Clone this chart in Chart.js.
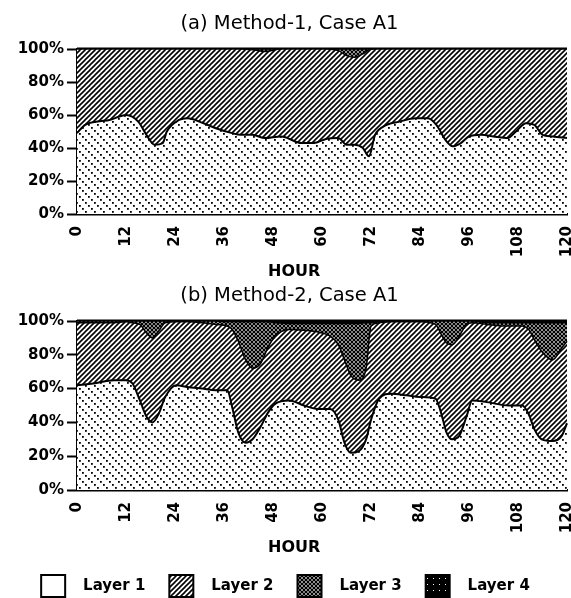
<!DOCTYPE html>
<html>
<head>
<meta charset="utf-8">
<script src="https://cdn.jsdelivr.net/npm/chart.js@4.4.1/dist/chart.umd.min.js"></script>
<style>
  html, body { margin: 0; padding: 0; background: #fff; overflow: hidden; }
  #wrap { position: relative; width: 571px; height: 598px; }
  canvas { position: absolute; left: 0; }
  #ctxA { top: 0; }
  #ctxB { top: 282px; }
</style>
</head>
<body>
<div id="wrap">
  <canvas id="ctxA" width="571" height="282"></canvas>
  <canvas id="ctxB" width="571" height="316"></canvas>
</div>
<script>
// (a) Method-1, Case A1 - share of each layer (%)
const hoursA  = [0, 2, 5, 8, 12, 15, 17, 19, 21, 22, 25, 27, 31, 34, 38, 40, 43, 46, 50, 55, 58, 61, 64, 66, 68, 70, 71.5, 73, 75, 79, 83, 86, 88, 90.5, 92, 94, 96, 99, 102, 105.5, 107.5, 110, 112, 114, 116.5, 120];
const layer1A = [49, 54, 56, 57, 60, 56, 48, 42, 43, 50, 57, 58, 55, 52, 49, 48, 48, 46, 47, 43, 43, 45.5, 46, 42, 42, 40, 35, 48, 53, 56, 58, 58, 54, 44, 41, 43, 47, 48, 47, 46, 50, 55, 54, 48, 47, 46];
const layer2A = [51, 46, 44, 43, 40, 44, 52, 58, 57, 50, 43, 42, 45, 48, 51, 52, 51.5, 52.5, 53, 57, 57, 54.5, 53, 54, 53, 57, 64.5, 52, 47, 44, 42, 42, 46, 56, 59, 57, 53, 52, 53, 54, 50, 45, 46, 52, 53, 54];
const layer3A = [0, 0, 0, 0, 0, 0, 0, 0, 0, 0, 0, 0, 0, 0, 0, 0, 0.5, 1.5, 0, 0, 0, 0, 1, 4, 5, 3, 0.5, 0, 0, 0, 0, 0, 0, 0, 0, 0, 0, 0, 0, 0, 0, 0, 0, 0, 0, 0];
const layer4A = [0, 0, 0, 0, 0, 0, 0, 0, 0, 0, 0, 0, 0, 0, 0, 0, 0, 0, 0, 0, 0, 0, 0, 0, 0, 0, 0, 0, 0, 0, 0, 0, 0, 0, 0, 0, 0, 0, 0, 0, 0, 0, 0, 0, 0, 0];

// (b) Method-2, Case A1
const hoursB  = [0, 4, 9, 12, 13.6, 15.4, 17, 18.5, 20, 21.6, 24.3, 27, 30.6, 34, 36.8, 38, 39.5, 41.3, 43, 45, 46.7, 48.5, 52, 55.6, 59, 62, 64, 65.5, 67, 69, 70.8, 72, 74, 77, 80.7, 84, 87.8, 89, 90.5, 91.9, 93.6, 95.4, 96.8, 100.4, 105.7, 109, 110.6, 112, 113.8, 116.5, 118.7, 120];
const layer1B = [62, 63, 65, 65, 63, 53, 43.5, 40, 45, 55, 62, 61, 60, 59, 59, 49, 34, 28, 30, 37.5, 45.5, 51, 53, 50, 48, 48, 41.5, 28, 22, 23, 30, 41.5, 54, 57, 56, 55, 54, 47, 34, 30, 32, 43.5, 53, 52, 50, 50, 45, 36, 30, 29, 32, 39.5];
const layer2B = [37, 36, 34, 34.5, 36, 45, 49.5, 50, 49, 44, 37.5, 38.5, 39, 39, 38, 46, 54, 49, 42, 37.5, 38.5, 40, 42, 44.5, 45.5, 43, 44.5, 49, 46, 42, 42, 55.5, 45, 42.5, 43.5, 44.5, 44, 46, 53, 56, 59, 54.5, 46, 46, 47, 47, 50, 53, 52, 48, 52, 48.5];
const layer3B = [1, 1, 1, 0.5, 1, 2, 7, 10, 6, 1, 0.5, 0.5, 1, 2, 2.5, 4.5, 11.5, 22.5, 27.5, 24.5, 15.5, 8, 3.5, 4, 5, 7.5, 12.5, 21.5, 30.5, 33.5, 27, 2, 0.5, 0.5, 0.5, 0.5, 2, 7, 13, 14, 9, 2, 1, 1, 2, 2, 4, 10, 17, 22, 15, 11];
const layer4B = [0, 0, 0, 0, 0, 0, 0, 0, 0, 0, 0, 0, 0, 0, 0.5, 0.5, 0.5, 0.5, 0.5, 0.5, 0.5, 1, 1.5, 1.5, 1.5, 1.5, 1.5, 1.5, 1.5, 1.5, 1, 1, 0.5, 0, 0, 0, 0, 0, 0, 0, 0, 0, 0, 1, 1, 1, 1, 1, 1, 1, 1, 1];

const layerNames = ['Layer 1', 'Layer 2', 'Layer 3', 'Layer 4'];
const hourTicks = [0, 12, 24, 36, 48, 60, 72, 84, 96, 108, 120];

const FONT = "'DejaVu Sans', Verdana, sans-serif";
const NBSP = '\u00a0';

function makePattern(size, draw) {
    const c = document.createElement('canvas');
    c.width = size; c.height = size;
    const g = c.getContext('2d');
    g.fillStyle = '#fff';
    g.fillRect(0, 0, size, size);
    draw(g, size);
    return g.createPattern(c, 'repeat');
}

// dotted "\" lines
const dotsPattern = makePattern(9, (g) => {
    g.fillStyle = '#000';
    [[1, 1], [4, 4], [7, 7]].forEach(p => g.fillRect(p[0], p[1], 1.8, 1.8));
});
// "/" hatch
const hatchPattern = makePattern(5, (g, s) => {
    g.strokeStyle = '#000';
    g.lineWidth = 1.6;
    [-s, 0, s].forEach(o => {
        g.beginPath(); g.moveTo(o - 1, s + 1); g.lineTo(o + s + 1, -1); g.stroke();
    });
});
// dense cross hatch
const crossPattern = makePattern(4, (g, s) => {
    g.strokeStyle = '#000';
    g.lineWidth = 1.3;
    [-s, 0, s].forEach(o => {
        g.beginPath(); g.moveTo(o - 1, s + 1); g.lineTo(o + s + 1, -1); g.stroke();
        g.beginPath(); g.moveTo(o - 1, -1); g.lineTo(o + s + 1, s + 1); g.stroke();
    });
});
// nearly solid dark
const darkPattern = makePattern(6, (g) => {
    g.fillStyle = '#000';
    g.fillRect(0, 0, 6, 6);
    g.fillStyle = '#fff';
    g.fillRect(1, 2, 1, 1);
});

const areaFills = [dotsPattern, hatchPattern, crossPattern, darkPattern];
const legendFills = ['#fff', hatchPattern, crossPattern, darkPattern];
const borderWidths = [2, 1.5, 1.5, 3];

// small position tweaks for the title and legend after Chart.js lays out the boxes
const nudgePlugin = {
    id: 'nudge',
    afterLayout(chart, args, opts) {
        if (chart.titleBlock && opts.titleDx) {
            chart.titleBlock.left += opts.titleDx;
            chart.titleBlock.right += opts.titleDx;
        }
        const lg = chart.legend;
        if (lg && chart.options.plugins.legend.display) {
            lg.left += opts.legendDx || 0;
            lg.right += opts.legendDx || 0;
            lg.top += opts.legendDy || 0;
            lg.bottom += opts.legendDy || 0;
        }
    }
};

function toPoints(hours, values) {
    return hours.map((h, i) => ({ x: h, y: values[i] }));
}

function getConfiguration(title, hours, layers, showLegend, titlePad, bottomPad) {
    return {
        type: 'line',
        data: {
            datasets: layers.map((values, i) => ({
                label: layerNames[i],
                data: toPoints(hours, values),
                backgroundColor: areaFills[i],
                borderColor: '#000',
                borderWidth: borderWidths[i],
                pointRadius: 0,
                cubicInterpolationMode: 'monotone',
                fill: i === 0 ? 'origin' : '-1',
                clip: 4
            }))
        },
        plugins: [nudgePlugin],
        options: {
            responsive: false,
            animation: false,
            devicePixelRatio: 1,
            layout: { padding: { left: 0, right: 4, top: 0, bottom: bottomPad } },
            plugins: {
                nudge: { titleDx: 6, legendDx: 2, legendDy: -6 },
                title: {
                    display: true,
                    text: title,
                    color: '#000',
                    font: { family: FONT, size: 19.5, weight: 'normal', lineHeight: 1.2 },
                    padding: titlePad
                },
                legend: {
                    display: showLegend,
                    position: 'bottom',
                    labels: {
                        color: '#000',
                        font: { family: FONT, size: 15, weight: 'bold' },
                        boxWidth: 24,
                        boxHeight: 22,
                        padding: 24,
                        generateLabels: (chart) => layerNames.map((name, i) => ({
                            text: NBSP + NBSP + name,
                            fillStyle: legendFills[i],
                            strokeStyle: '#000',
                            lineWidth: 2,
                            hidden: false,
                            datasetIndex: i,
                            fontColor: '#000'
                        }))
                    }
                },
                tooltip: { enabled: false }
            },
            scales: {
                x: {
                    type: 'linear',
                    min: 0,
                    max: 120,
                    afterBuildTicks: (scale) => { scale.ticks = hourTicks.map(v => ({ value: v })); },
                    afterFit: (scale) => { scale.height = 67; scale.paddingLeft = 0; scale.paddingRight = 0; },
                    ticks: {
                        color: '#000',
                        autoSkip: false,
                        minRotation: 90,
                        maxRotation: 90,
                        padding: 6,
                        font: { family: FONT, size: 15, weight: 'bold' }
                    },
                    grid: { drawOnChartArea: false, drawTicks: true, tickLength: 6, tickColor: 'rgba(0,0,0,0)' },
                    border: { display: true, color: '#000', width: 2.5 },
                    title: {
                        display: true,
                        // trailing spaces pull the centred word left, as in the original
                        text: 'HOUR' + NBSP.repeat(10),
                        color: '#000',
                        font: { family: FONT, size: 16, weight: 'bold', lineHeight: 1.2 },
                        padding: { top: 4, bottom: 0 }
                    }
                },
                y: {
                    stacked: true,
                    min: 0,
                    max: 100,
                    afterFit: (scale) => { scale.width = 77; },
                    ticks: {
                        stepSize: 10,
                        color: '#000',
                        padding: 3,
                        font: { family: FONT, size: 15, weight: 'bold' },
                        callback: (value) => value % 20 === 0 ? value + '%' : ''
                    },
                    grid: { drawOnChartArea: false, drawTicks: true, tickLength: 10, tickColor: '#000', tickWidth: 2 },
                    border: { display: true, color: '#000', width: 2.5 }
                }
            }
        }
    };
}

new Chart(document.getElementById('ctxA'), getConfiguration(
    '(a) Method-1, Case A1', hoursA, [layer1A, layer2A, layer3A, layer4A], false,
    { top: 12.3, bottom: 13.3 }, 1));

new Chart(document.getElementById('ctxB'), getConfiguration(
    '(b) Method-2, Case A1', hoursB, [layer1B, layer2B, layer3B, layer4B], true,
    { top: 2.3, bottom: 13.3 }, -15));
</script>
</body>
</html>
